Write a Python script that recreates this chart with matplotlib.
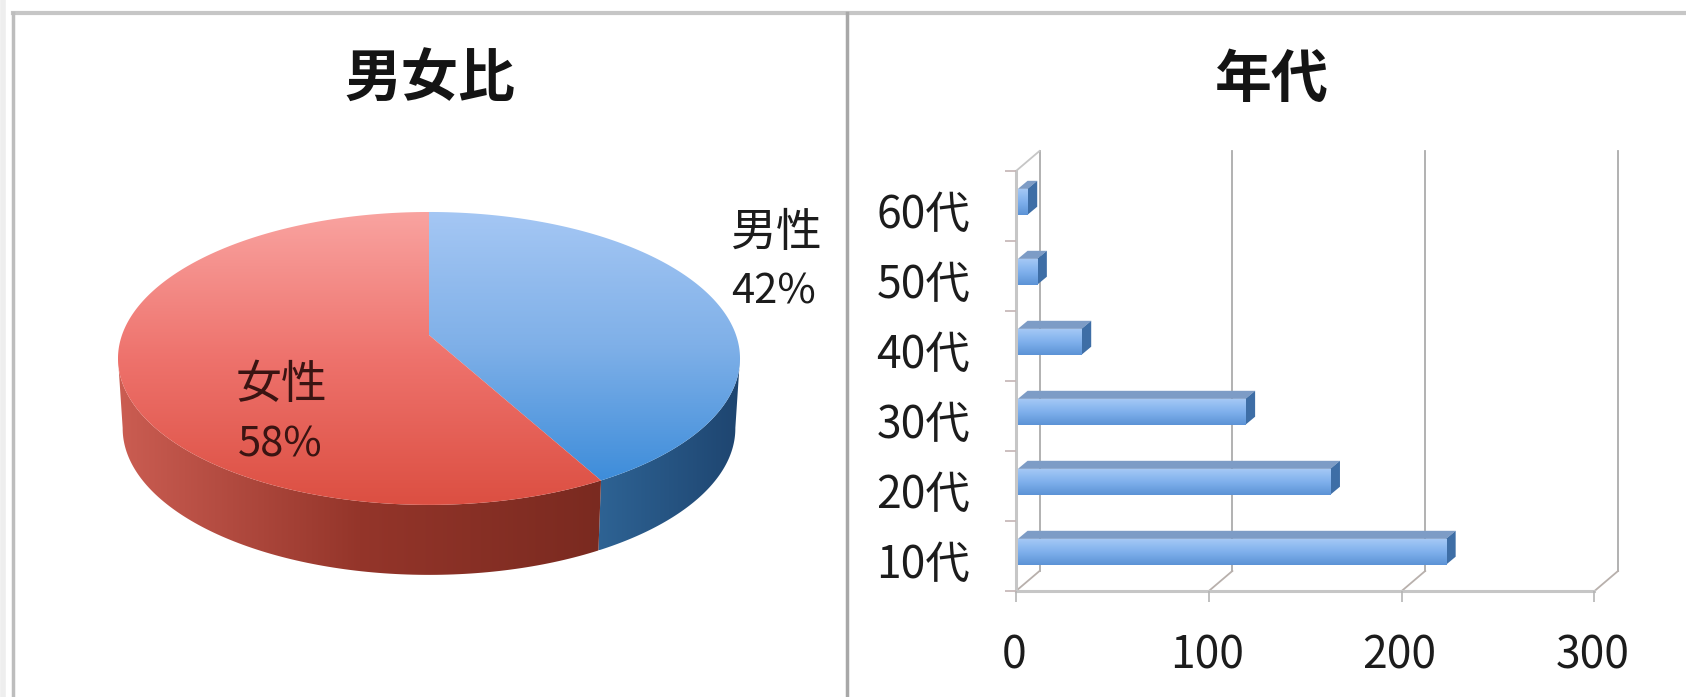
import matplotlib
matplotlib.use("Agg")
import matplotlib.pyplot as plt
import numpy as np
from matplotlib.colors import LinearSegmentedColormap
from matplotlib.patches import Polygon
from matplotlib.transforms import ScaledTranslation

plt.rcParams["font.family"] = ["Noto Sans CJK JP", "DejaVu Sans"]

W, H = 1686, 697

# pie data
pie_labels = ["男性", "女性"]
pie_shares = [42, 58]

# bar data
decades = ["10代", "20代", "30代", "40代", "50代", "60代"]
counts = [222, 162, 118, 33, 10, 5]
count_ticks = [0, 100, 200, 300]

# fake perspective for the pie, in figure pixels
CX, CY = 429, 335
RX, RY, PERSP = 307, 142.7, 0.16
PIE_DEPTH, PIE_SHRINK = 70, 0.985

# fake 3d for the bars, in data units
WALL_DX, WALL_DY = 12.2, 0.286
BAR_SHIFT, BAR_LIFT, BAR_H = 1, 0.06, 0.37
BAR_DX, BAR_DY = 5, 0.115


def ramp(*colors):
    return LinearSegmentedColormap.from_list("ramp", colors)


def rim(theta):
    # theta in degrees, clockwise from 12 o'clock
    t = np.radians(theta)
    u, v = np.sin(t), np.cos(t)
    w = 1 + PERSP * v
    return CX + RX * u / w, CY - RY * v / w


def fill_gradient(ax, patch, cmap, vertical=True):
    ax.add_patch(patch)
    patch.set_facecolor("none")
    patch.set_edgecolor("none")
    xy = patch.get_xy()
    x0, x1, y0, y1 = xy[:, 0].min(), xy[:, 0].max(), xy[:, 1].min(), xy[:, 1].max()
    g = np.linspace(0, 1, 256)
    g = g[:, None] if vertical else g[None, :]
    im = ax.imshow(g, cmap=cmap, extent=[x0, x1, y1, y0], origin="upper",
                   aspect="auto", vmin=0, vmax=1, zorder=2)
    im.set_clip_path(patch)


def draw_pie(ax):
    stops = np.cumsum([0] + pie_shares) / sum(pie_shares) * 360
    tops = [ramp("#A5C7F4", "#7FB0E8", "#3E8DDA"), ramp("#F9A3A0", "#EE726C", "#DC4F42")]

    # side walls first: right extreme to cut, cut to left extreme
    right_edge, left_edge = 99, 261
    walls = [(right_edge, stops[1], ramp("#2E6394", "#1E4570")),
             (stops[1], left_edge, ramp("#CB5D52", "#94352A", "#7A2A20"))]
    for a, b, cmap in walls:
        th = np.linspace(a, b, 120)
        x, y = rim(th)
        xb = CX + (x - CX) * PIE_SHRINK
        yb = y + PIE_DEPTH
        pts = np.vstack([np.c_[x, y], np.c_[xb, yb][::-1]])
        fill_gradient(ax, Polygon(pts, closed=True), cmap, vertical=False)

    for i in range(2):
        th = np.linspace(stops[i], stops[i + 1], 240)
        x, y = rim(th)
        pts = np.vstack([[CX, CY], np.c_[x, y]])
        fill_gradient(ax, Polygon(pts, closed=True), tops[i])

    ax.text(776, 233, pie_labels[0], ha="center", va="center", fontsize=33, color="#1c1c1c", zorder=5)
    ax.text(774, 292, f"{pie_shares[0]}%", ha="center", va="center", fontsize=30, color="#1c1c1c", zorder=5)
    ax.text(281, 385, pie_labels[1], ha="center", va="center", fontsize=33, color="#3a1412", zorder=5)
    ax.text(280, 445, f"{pie_shares[1]}%", ha="center", va="center", fontsize=30, color="#3a1412", zorder=5)


def draw_bars(ax):
    n = len(decades)
    ypos = np.arange(n)
    ax.set_xlim(0, 300)
    ax.set_ylim(-0.5, n - 0.5)
    ax.patch.set_visible(False)
    for side in ax.spines.values():
        side.set_visible(False)

    # back wall, floor and side wall lines
    grid = "#ABABAB"
    low, high = -0.5, n - 0.5
    for v in count_ticks:
        ax.plot([v + WALL_DX] * 2, [low + WALL_DY, high + WALL_DY], color=grid, lw=1.3, clip_on=False, zorder=1)
        ax.plot([v, v + WALL_DX], [low, low + WALL_DY], color="#B8B0AC", lw=1.3, clip_on=False, zorder=1)
    ax.plot([0, 300], [low, low], color="#C6C6C6", lw=2.2, clip_on=False, zorder=1)
    ax.plot([0, 0], [low, high], color="#C6C6C6", lw=2.2, clip_on=False, zorder=1)
    ax.plot([0, WALL_DX], [high, high + WALL_DY], color="#C6C6C6", lw=1.3, clip_on=False, zorder=1)

    front = ramp("#A4C8F5", "#7FB0EC", "#5C93D6")
    bars = ax.barh(ypos + BAR_LIFT, counts, height=BAR_H, left=BAR_SHIFT, color="none", zorder=3)
    for bar, y, v in zip(bars, ypos + BAR_LIFT, counts):
        x1 = BAR_SHIFT + v
        y0, y1 = y - BAR_H / 2, y + BAR_H / 2
        top = [(BAR_SHIFT, y1), (x1, y1), (x1 + BAR_DX, y1 + BAR_DY), (BAR_SHIFT + BAR_DX, y1 + BAR_DY)]
        side = [(x1, y0), (x1, y1), (x1 + BAR_DX, y1 + BAR_DY), (x1 + BAR_DX, y0 + BAR_DY)]
        ax.add_patch(Polygon(top, closed=True, facecolor="#7D9CC6", edgecolor="none", zorder=3))
        ax.add_patch(Polygon(side, closed=True, facecolor="#3E6EA6", edgecolor="none", zorder=3))
        g = np.linspace(0, 1, 64)[:, None]
        im = ax.imshow(g, cmap=front, extent=[BAR_SHIFT, x1, y0, y1], origin="upper",
                       aspect="auto", vmin=0, vmax=1, zorder=4)
        im.set_clip_path(bar)
    ax.set_xlim(0, 300)
    ax.set_ylim(-0.5, n - 0.5)

    ax.set_xticks(count_ticks)
    ax.tick_params(axis="x", length=8, width=1.2, color="#B5B5B5", pad=22, labelsize=32, labelcolor="#1c1c1c")
    ax.set_yticks(ypos, decades)
    ax.tick_params(axis="y", length=0, pad=33, labelsize=32, labelcolor="#1c1c1c")
    ax.set_yticks(np.arange(n + 1) - 0.5, minor=True)
    ax.tick_params(axis="y", which="minor", length=8, width=1.2, color="#C4B4B4")

    # labels sit a bit off their ticks in the original
    nudge_y = ScaledTranslation(0, -2.9 / 72, ax.figure.dpi_scale_trans)
    for label in ax.get_yticklabels():
        label.set_transform(label.get_transform() + nudge_y)
    nudge_x = ScaledTranslation(-1.5 / 72, 0, ax.figure.dpi_scale_trans)
    for label in ax.get_xticklabels():
        label.set_transform(label.get_transform() + nudge_x)


def main():
    fig = plt.figure(figsize=(W / 100, H / 100), dpi=100, facecolor="white")

    bg = fig.add_axes([0, 0, 1, 1], zorder=0)
    bg.axis("off")
    draw_pie(bg)
    bg.set_xlim(0, W)
    bg.set_ylim(H, 0)

    # panel borders
    bg.plot([13, W], [13, 13], color="#C6C6C6", lw=3, zorder=1)
    bg.plot([13, 13], [13, H], color="#BDBDBD", lw=2.5, zorder=1)
    bg.plot([3, 3], [0, H], color="#EEEEEE", lw=4, zorder=1)
    bg.plot([847, 847], [13, H], color="#A8A8A8", lw=2.5, zorder=1)

    bg.text(430, 80, "男女比", ha="center", va="center", fontsize=41, fontweight="bold", color="#141414")
    bg.text(1272, 80, "年代", ha="center", va="center", fontsize=41, fontweight="bold", color="#141414")

    left, right, top, bottom = 1016, 1594.5, 171, 591
    ax = fig.add_axes([left / W, 1 - bottom / H, (right - left) / W, (bottom - top) / H], zorder=1)
    draw_bars(ax)

    fig.savefig("out.png", dpi=100, facecolor="white")
    plt.close(fig)


if __name__ == "__main__":
    main()
